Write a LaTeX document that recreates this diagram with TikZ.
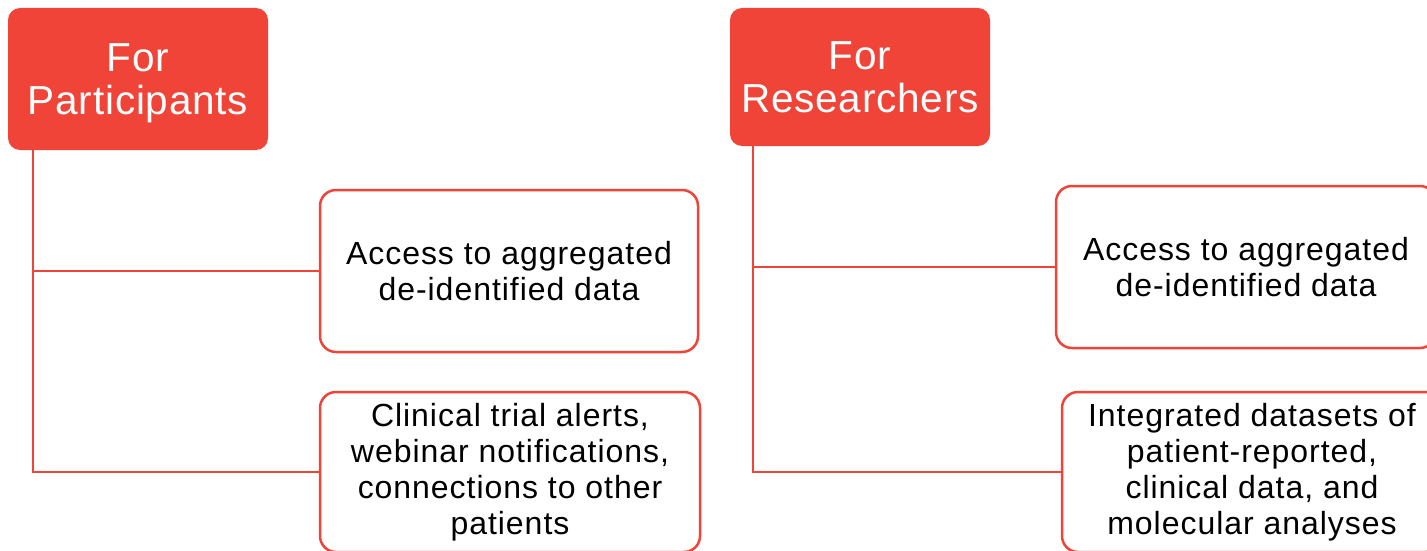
\documentclass[tikz,border=0pt]{standalone}
\usepackage{fontspec}
\setmainfont{Liberation Sans}
\newfontfamily\headfont[LetterSpace=2]{Liberation Sans}
\newfontfamily\bodyfont[LetterSpace=3]{Liberation Sans}
\definecolor{accent}{RGB}{240,68,56}
\tikzset{
  header/.style={rounded corners=12pt, fill=accent, draw=none, text=white,
    align=center, inner sep=0pt, font={\headfont\fontsize{40.5}{43}\selectfont}},
  itembox/.style={rounded corners=16pt, draw=accent, line width=2.5pt, fill=white,
    align=center, inner sep=0pt, font={\bodyfont\fontsize{32}{36}\selectfont}},
  link/.style={draw=accent, line width=2pt}
}
\begin{document}
\begin{tikzpicture}[x=1pt,y=-1pt]
\clip (0,0) rectangle (1427,551);
\useasboundingbox (0,0) rectangle (1427,551);
\fill[white] (0,0) rectangle (1427,551);
% headers
\node[header, minimum width=260pt, minimum height=142pt] (lh) at (138,79) {For\\\raisebox{0pt}[\height][0pt]{Participants}};
\node[header, minimum width=260pt, minimum height=138pt] (rh) at (860,77) {For\\Researchers};
% coordinates for trunks
\coordinate (lt) at ([xshift=25pt]lh.south west);
\coordinate (rt) at ([xshift=23pt]rh.south west);
% item boxes
\node[itembox, minimum width=378pt, minimum height=162pt] (lb1) at (509,271) {Access to aggregated\\de-identified data};
\node[itembox, minimum width=380pt, minimum height=160pt] (lb2) at (510,472) {Clinical trial alerts,\\webinar notifications,\\connections to other\\patients};
\node[itembox, minimum width=380pt, minimum height=162pt] (rb1) at (1246,267) {Access to aggregated\\de-identified data};
\node[itembox, minimum width=380pt, minimum height=160pt] (rb2) at (1252,472) {Integrated datasets of\\patient-reported,\\clinical data, and\\molecular analyses};
% connectors
\draw[link] (lt) |- (lb1.west);
\draw[link] (lt) |- (lb2.west);
\draw[link] (rt) |- (rb1.west);
\draw[link] (rt) |- (rb2.west);
\end{tikzpicture}
\end{document}
